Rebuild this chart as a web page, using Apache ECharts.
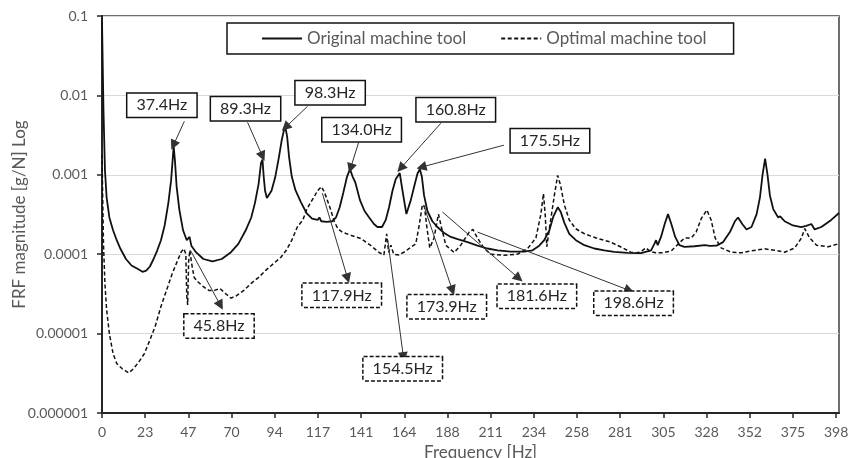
<!DOCTYPE html>
<html>
<head>
  <meta charset="utf-8">
  <title>FRF magnitude</title>
  <script src="https://cdn.jsdelivr.net/npm/echarts@6/dist/echarts.min.js"></script>
</head>
<body style="margin: 0;">
  <div id="container" style="width: 859px; height: 458px;"></div>
  <script>
    // Original machine tool (solid)
    var origFreq = [0, 0.8, 1.6, 2.5, 4, 6, 8, 10, 13, 16, 19, 22, 24, 26, 28, 30, 32, 34, 36, 37.5, 38.3, 38.9, 39.6, 40.5, 42, 44, 46, 47.5, 48.5, 51, 55, 60, 65, 70, 74, 78, 81, 83, 85, 86.3, 87.1, 87.8, 88.5, 89.5, 90.5, 92, 94, 96, 97.5, 98.7, 99.6, 100.5, 101.5, 103, 105, 108, 111, 114, 117, 118, 119, 122, 125, 127, 129, 131, 133, 134.6, 136, 137.5, 140, 142.5, 145, 147.6, 149.5, 152, 154, 155.8, 157.6, 159.4, 161.6, 163, 165.2, 167.6, 169.8, 171.2, 172.5, 173.6, 174.8, 176.6, 179.3, 182, 185.7, 189.3, 193, 198.4, 203.8, 209.2, 214.7, 221.9, 229.2, 233.7, 237.3, 240, 242.8, 245, 247.4, 249, 250.9, 253.6, 257.2, 261.8, 267.2, 272.6, 278, 285.3, 292.6, 298, 299.8, 300.7, 301.6, 303.4, 305.4, 307.2, 309, 311.1, 313.4, 316.1, 321.6, 327.2, 329.9, 333.5, 337.1, 340.8, 343.5, 345.2, 347.5, 349.8, 352.5, 355.3, 357.1, 358.5, 359.9, 361.2, 362.5, 364.3, 367, 368.1, 370.5, 375, 379.5, 382.2, 385, 386.8, 390.4, 395.8, 400];
    var origMag = [0.088, 0.0065, 0.00115, 0.00052, 0.00029, 0.0002, 0.00015, 0.000117, 0.000087, 0.000072, 0.000066, 0.00006, 0.000062, 0.00007, 0.000087, 0.000112, 0.00015, 0.00023, 0.00044, 0.00085, 0.0015, 0.0023, 0.0015, 0.00071, 0.00036, 0.0002, 0.00015, 0.000165, 0.000128, 0.000106, 0.000087, 0.000081, 0.000087, 0.000106, 0.000135, 0.0002, 0.00029, 0.00044, 0.00077, 0.0014, 0.00155, 0.00093, 0.00063, 0.00051, 0.00052, 0.00063, 0.00093, 0.00166, 0.0027, 0.0036, 0.0039, 0.003, 0.0017, 0.00095, 0.00064, 0.00045, 0.00033, 0.00028, 0.00027, 0.00029, 0.00026, 0.000255, 0.00026, 0.00029, 0.00039, 0.0006, 0.00095, 0.00118, 0.00095, 0.0008, 0.00048, 0.00035, 0.00029, 0.00024, 0.00022, 0.00022, 0.00027, 0.00039, 0.00062, 0.00088, 0.00105, 0.00065, 0.00032, 0.00048, 0.00077, 0.00103, 0.00118, 0.00095, 0.00055, 0.00035, 0.00026, 0.00022, 0.000185, 0.000165, 0.000155, 0.000142, 0.000128, 0.000118, 0.000112, 0.000108, 0.000108, 0.000112, 0.000128, 0.00015, 0.0002, 0.0003, 0.00039, 0.00034, 0.00025, 0.00018, 0.00015, 0.00013, 0.000118, 0.000112, 0.000107, 0.000104, 0.000103, 0.000112, 0.000135, 0.00015, 0.00013, 0.000165, 0.00024, 0.00032, 0.00024, 0.000165, 0.00013, 0.000124, 0.000126, 0.00013, 0.000127, 0.000128, 0.000142, 0.00019, 0.00026, 0.00029, 0.00024, 0.000205, 0.00022, 0.00032, 0.00052, 0.001, 0.0016, 0.001, 0.00055, 0.00037, 0.00029, 0.0003, 0.00026, 0.00023, 0.00022, 0.000228, 0.00024, 0.000205, 0.00022, 0.00027, 0.00033];

    // Optimal machine tool (dashed)
    var optFreq = [0, 0.8, 1.6, 2.5, 4, 6, 8, 11, 14.5, 17, 20, 23, 26, 29, 32, 35, 38, 41, 43, 44.5, 45.5, 46, 46.5, 47, 47.7, 48.5, 50, 52, 55, 58, 61, 64, 67, 70, 73, 77, 81, 85, 89, 93, 97, 100, 103, 106, 109, 111, 113, 115, 117, 119, 120.5, 122, 124, 126, 128, 130.4, 135, 140.4, 145.8, 150.4, 153, 154.5, 155.6, 156.8, 158.3, 161.2, 164.5, 167.5, 170.3, 172, 173.9, 175, 176.3, 177.9, 180.2, 182.6, 184.2, 186.6, 191.1, 194.7, 199.3, 201.3, 203.8, 207.4, 211, 218.3, 225.5, 231, 235.5, 238.2, 239.6, 240.6, 241.4, 243.3, 245.6, 247.3, 248.8, 250.9, 253.6, 257, 262, 269, 276, 282, 287, 290, 293, 295.3, 297.5, 300.5, 304, 309, 313.5, 316.2, 319.8, 322.5, 325.2, 328.3, 330.6, 332.8, 336, 341.5, 347, 352.4, 359.6, 365, 370.5, 376, 379.6, 381.4, 384.1, 387.8, 394.1, 400];
    var optMag = [0.0018, 0.000135, 0.000042, 0.00002, 0.00001, 0.0000056, 0.0000042, 0.0000036, 0.0000032, 0.0000036, 0.0000044, 0.0000056, 0.0000083, 0.0000126, 0.000022, 0.000035, 0.000056, 0.000083, 0.000107, 0.000117, 0.0001, 0.00003, 0.000023, 0.00008, 0.000112, 0.00008, 0.000051, 0.000045, 0.000039, 0.000035, 0.000035, 0.000037, 0.000032, 0.000028, 0.00003, 0.000035, 0.000043, 0.000051, 0.000063, 0.000076, 0.000091, 0.000112, 0.00015, 0.00022, 0.00027, 0.00036, 0.00044, 0.00052, 0.00063, 0.00071, 0.00062, 0.0005, 0.00037, 0.00026, 0.00021, 0.00019, 0.000173, 0.000158, 0.000129, 0.000105, 0.000098, 0.00018, 0.000105, 0.00013, 0.0001, 0.000098, 0.000108, 0.000122, 0.000135, 0.00022, 0.00042, 0.0004, 0.00022, 0.00012, 0.00016, 0.00032, 0.00022, 0.00013, 0.000105, 0.00013, 0.00019, 0.000205, 0.00016, 0.000118, 0.0001, 0.000097, 0.0001, 0.000118, 0.00016, 0.00032, 0.00058, 0.0003, 0.000124, 0.00025, 0.00057, 0.00098, 0.00075, 0.00042, 0.00027, 0.00021, 0.00018, 0.000158, 0.000142, 0.000122, 0.000106, 0.000103, 0.00011, 0.00012, 0.000108, 0.000104, 0.000104, 0.00011, 0.00014, 0.00016, 0.00016, 0.00019, 0.00028, 0.00036, 0.00027, 0.00016, 0.00012, 0.000106, 0.000104, 0.00011, 0.000117, 0.000112, 0.000106, 0.00012, 0.00016, 0.00021, 0.00016, 0.00013, 0.000124, 0.000136];

    // annotations: [label, box centre, arrow start, arrow end] in data units
    var origNotes = [
      ['37.4Hz', [32.5, 0.0075], [44.7, 0.00472], [38.75, 0.00236]],
      ['89.3Hz', [77.9, 0.00678], [79.0, 0.00458], [87.1, 0.00171]],
      ['98.3Hz', [123.8, 0.0108], [111.6, 0.0073], [99.6, 0.00396]],
      ['134.0Hz', [140.9, 0.00369], [139.3, 0.00257], [134.9, 0.00121]],
      ['160.8Hz', [192.0, 0.00659], [183.9, 0.00446], [162.1, 0.00121]],
      ['175.5Hz', [243.1, 0.00268], [218.1, 0.00236], [173.4, 0.00125]]
    ];
    var optNotes = [
      ['45.8Hz', [63.5, 0.0000125], [48.0, 0.000112], [64.3, 0.0000227]],
      ['117.9Hz', [130.1, 0.0000303], [119.6, 0.000585], [133.3, 0.0000497]],
      ['154.5Hz', [163.2, 0.0000036], [155.1, 0.00015], [163.6, 0.00000507]],
      ['173.9Hz', [187.1, 0.0000218], [174.6, 0.000413], [190.2, 0.000035]],
      ['181.6Hz', [236.0, 0.0000295], [184.8, 0.00034], [226.2, 0.0000497]],
      ['198.6Hz', [288.5, 0.0000241], [203.8, 0.00019], [286.2, 0.000035]]
    ];

    var font = 'Lato, "Noto Sans", sans-serif';

    function pairs(xs, ys) {
      return xs.map(function (x, i) { return [x, ys[i]]; });
    }

    function notePoints(notes, dashed) {
      return notes.map(function (n) {
        return {
          coord: n[1],
          label: {
            formatter: n[0],
            borderType: dashed ? [4, 2] : 'solid'
          }
        };
      });
    }

    function noteLines(notes) {
      return notes.map(function (n) {
        return [
          { coord: n[2], symbol: 'none' },
          { coord: n[3], symbol: 'triangle', symbolSize: 10 }
        ];
      });
    }

    var markPointBase = {
      symbol: 'rect',
      symbolSize: 1,
      silent: true,
      itemStyle: { color: 'rgba(0,0,0,0)' },
      label: {
        show: true,
        position: 'inside',
        fontFamily: font,
        fontSize: 16,
        color: '#262626',
        backgroundColor: '#fff',
        borderColor: '#111',
        borderWidth: 1.5,
        padding: [4, 9, 3, 9]
      }
    };

    var markLineBase = {
      silent: true,
      symbol: ['none', 'triangle'],
      symbolSize: 10,
      label: { show: false },
      itemStyle: { color: '#111' },
      lineStyle: { color: '#333', width: 1, type: 'solid' }
    };

    var chart = echarts.init(document.getElementById('container'));

    var option = {
      animation: false,
      backgroundColor: '#fff',
      grid: {
        left: 102, right: 20, top: 16, bottom: 45,
        outerBoundsMode: 'none',
        containLabel: false,
        show: true, borderColor: '#404040', borderWidth: 1.5
      },
      legend: {
        left: 227, top: 23,
        data: ['Original machine tool', 'Optimal machine tool'],
        itemWidth: 40, itemHeight: 12, itemGap: 34,
        padding: [7, 27, 7, 34],
        borderColor: '#111', borderWidth: 1.5, backgroundColor: '#fff',
        itemStyle: { opacity: 0 },
        textStyle: { fontFamily: font, fontSize: 17, color: '#595959' }
      },
      xAxis: {
        type: 'value',
        min: 0, max: 400, interval: 23.4375,
        name: 'Frequency [Hz]',
        nameLocation: 'middle', nameGap: 30,
        nameTextStyle: { fontFamily: font, fontSize: 17, color: '#595959', padding: [0, 0, 0, 20] },
        axisLine: { lineStyle: { color: '#262626', width: 2 } },
        axisTick: { show: true, length: 5, lineStyle: { color: '#262626', width: 1.5 } },
        axisLabel: {
          fontFamily: font, fontSize: 14, color: '#595959', margin: 12,
          showMaxLabel: false,
          formatter: function (v) { return String(Math.round(v)); }
        },
        splitLine: { show: false }
      },
      yAxis: {
        type: 'log', logBase: 10,
        min: 0.000001, max: 0.1,
        name: 'FRF magnitude [g/N] Log',
        nameLocation: 'middle', nameGap: 74,
        nameMoveOverlap: false,
        nameTextStyle: { fontFamily: font, fontSize: 17, color: '#595959' },
        axisLine: { show: true, lineStyle: { color: '#262626', width: 2 } },
        axisTick: { show: true, length: 5, lineStyle: { color: '#262626', width: 1.5 } },
        axisLabel: {
          fontFamily: font, fontSize: 14, color: '#595959', margin: 14,
          formatter: function (v) {
            var d = -Math.round(Math.log10(v));
            return v.toFixed(d);
          }
        },
        splitLine: { lineStyle: { color: '#d9d9d9', width: 1 } }
      },
      series: [
        {
          name: 'Original machine tool',
          type: 'line',
          symbol: 'none',
          data: pairs(origFreq, origMag),
          lineStyle: { color: '#111', width: 1.8, type: 'solid' },
          itemStyle: { color: '#111' },
          markLine: Object.assign({}, markLineBase, { data: noteLines(origNotes) }),
          markPoint: Object.assign({}, markPointBase, { data: notePoints(origNotes, false) })
        },
        {
          name: 'Optimal machine tool',
          type: 'line',
          symbol: 'none',
          data: pairs(optFreq, optMag),
          lineStyle: { color: '#111', width: 1.5, type: [4, 2.5] },
          itemStyle: { color: '#111' },
          markLine: Object.assign({}, markLineBase, { data: noteLines(optNotes) }),
          markPoint: Object.assign({}, markPointBase, { data: notePoints(optNotes, true) })
        }
      ]
    };

    chart.setOption(option);
    window.addEventListener('resize', chart.resize);
  </script>
</body>
</html>
